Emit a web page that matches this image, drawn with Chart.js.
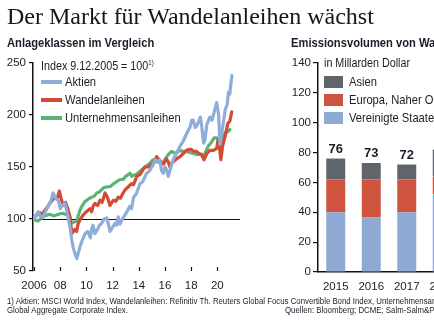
<!DOCTYPE html>
<html lang="de">
<head>
<meta charset="utf-8">
<script src="https://cdn.jsdelivr.net/npm/chart.js@4.4.1/dist/chart.umd.min.js"></script>
<style>
  html, body { margin: 0; padding: 0; overflow: hidden; }
  body { width: 434px; height: 326px; position: relative; background: #fff;
         font-family: 'Liberation Sans', sans-serif; color: #1c1c28; }
  .t { position: absolute; white-space: nowrap; transform-origin: 0 50%; }
  .schmal { transform: scaleX(0.86); }
  .fuss { font-size: 8.5px; line-height: 9px; transform: scaleX(0.92); }
  canvas { position: absolute; top: 0; }
  .strich { position: absolute; left: 41px; width: 21px; height: 4px; }
  .feld { position: absolute; left: 324px; width: 19px; height: 12px; }
</style>
</head>
<body>
<canvas id="grafico-index" width="250" height="326" style="left:0"></canvas>
<canvas id="grafico-emission" width="190" height="326" style="left:280px"></canvas>

<div class="t" style="left:7px;top:4px;font:24px/24px 'Liberation Serif',serif;color:#15151f">Der Markt für Wandelanleihen wächst</div>
<div class="t schmal" style="left:7px;top:35px;font-weight:bold;font-size:13px;line-height:16px">Anlageklassen im Vergleich</div>
<div class="t schmal" style="left:291px;top:35px;font-weight:bold;font-size:13px;line-height:16px">Emissionsvolumen von Wandelanleihen</div>

<!-- Legende links -->
<div class="t schmal" style="left:41px;top:55px;font-size:12.5px;line-height:16px">Index 9.12.2005 = 100<sup style="font-size:7px">1)</sup></div>
<div class="strich" style="top:80px;background:#8fadd9"></div>
<div class="strich" style="top:98px;background:#d24b32"></div>
<div class="strich" style="top:116px;background:#5cb377"></div>
<div class="t schmal" style="left:65px;top:74px;font-size:13px;line-height:16px">Aktien</div>
<div class="t schmal" style="left:65px;top:92px;font-size:13px;line-height:16px">Wandelanleihen</div>
<div class="t schmal" style="left:65px;top:110px;font-size:13px;line-height:16px">Unternehmensanleihen</div>

<!-- Legende rechts -->
<div class="t schmal" style="left:324px;top:55px;font-size:12.5px;line-height:16px">in Millarden Dollar</div>
<div class="feld" style="top:76px;background:#5f656b"></div>
<div class="feld" style="top:94px;background:#cf5440"></div>
<div class="feld" style="top:112px;background:#8eaad3"></div>
<div class="t schmal" style="left:349px;top:74px;font-size:13px;line-height:16px">Asien</div>
<div class="t schmal" style="left:349px;top:92px;font-size:13px;line-height:16px">Europa, Naher Osten</div>
<div class="t schmal" style="left:349px;top:110px;font-size:13px;line-height:16px">Vereinigte Staaten</div>

<!-- Fussnote -->
<div class="t fuss" style="left:7px;top:297px">1) Aktien: MSCI World Index, Wandelanleihen: Refinitiv Th. Reuters Global Focus Convertible Bond Index, Unternehmensanleihen:</div>
<div class="t fuss" style="left:7px;top:306px">Global Aggregate Corporate Index.</div>
<div class="t fuss" style="left:285px;top:306px">Quellen: Bloomberg; DCME; Salm-Salm&amp;Partner</div>

<script>
// Indexreihen [Jahr, Wert], 9.12.2005 = 100
const aktien = [[2005.93,100],[2006.15,104],[2006.33,107],[2006.45,103],[2006.7,102],[2006.9,108],[2007.1,113],[2007.3,118],[2007.45,125],[2007.65,120],[2007.85,118],[2008.0,110],[2008.1,112],[2008.35,115],[2008.5,108],[2008.6,102],[2008.75,92],[2008.88,80],[2009.0,72],[2009.15,66],[2009.26,62],[2009.4,68],[2009.5,73],[2009.7,80],[2009.9,86],[2010.1,88],[2010.3,82],[2010.4,90],[2010.5,94],[2010.65,86],[2010.85,90],[2011.0,94],[2011.17,96],[2011.35,100],[2011.55,101],[2011.7,94],[2011.8,88],[2012.0,92],[2012.2,96],[2012.3,94],[2012.43,102],[2012.55,95],[2012.7,99],[2012.9,103],[2013.1,107],[2013.3,112],[2013.45,110],[2013.6,121],[2013.8,124],[2014.1,134],[2014.3,136],[2014.45,140],[2014.6,144],[2014.8,146],[2015.0,150],[2015.25,157],[2015.4,155],[2015.6,157],[2015.75,146],[2015.87,144],[2016.0,150],[2016.1,148],[2016.25,141],[2016.45,150],[2016.63,157],[2016.85,163],[2017.0,166],[2017.15,170],[2017.4,175],[2017.65,182],[2017.9,188],[2018.05,195],[2018.16,195],[2018.3,188],[2018.4,189],[2018.55,193],[2018.7,198],[2018.8,190],[2018.95,173],[2019.05,176],[2019.2,191],[2019.43,198],[2019.6,195],[2019.8,205],[2019.95,212],[2020.1,200],[2020.2,172],[2020.3,180],[2020.45,192],[2020.6,205],[2020.75,210],[2020.85,222],[2020.95,220],[2021.05,232],[2021.12,238]];
const wandelanleihen = [[2005.93,100],[2006.2,104],[2006.45,106],[2006.6,104],[2006.8,108],[2007.0,111],[2007.2,115],[2007.4,118],[2007.6,121],[2007.75,119],[2007.93,127],[2008.1,118],[2008.25,113],[2008.4,116],[2008.6,109],[2008.75,102],[2008.88,86],[2009.0,88],[2009.1,90],[2009.25,88],[2009.38,96],[2009.55,100],[2009.76,104],[2010.0,107],[2010.27,110],[2010.4,107],[2010.5,112],[2010.65,115],[2010.85,113],[2011.04,118],[2011.2,116],[2011.42,125],[2011.6,121],[2011.8,113],[2012.05,118],[2012.25,117],[2012.43,121],[2012.6,120],[2012.8,125],[2012.95,128],[2013.2,131],[2013.45,134],[2013.6,133],[2013.84,141],[2014.1,143],[2014.3,147],[2014.47,150],[2014.7,150],[2014.98,152],[2015.2,156],[2015.37,160],[2015.55,157],[2015.75,154],[2015.9,153],[2016.1,158],[2016.25,155],[2016.38,150],[2016.5,154],[2016.63,155],[2016.9,158],[2017.15,160],[2017.4,163],[2017.65,166],[2017.85,167],[2018.0,167],[2018.2,165],[2018.4,165],[2018.6,163],[2018.8,162],[2018.98,157],[2019.2,163],[2019.43,166],[2019.7,166],[2019.95,168],[2020.05,176],[2020.15,170],[2020.27,157],[2020.4,170],[2020.6,180],[2020.8,192],[2020.95,194],[2021.1,203]];
const unternehmensanleihen = [[2005.93,100],[2006.1,99],[2006.3,98],[2006.5,100],[2006.8,103],[2007.2,104.5],[2007.5,103],[2007.75,104],[2008.0,105],[2008.2,105.5],[2008.5,104],[2008.7,102],[2008.88,96],[2009.05,97],[2009.25,98],[2009.5,108],[2009.64,112],[2009.9,117],[2010.14,119],[2010.4,121],[2010.6,122],[2010.8,125],[2011.0,126],[2011.3,130],[2011.6,131],[2011.8,131],[2012.2,135],[2012.56,138],[2012.8,138],[2013.0,141],[2013.33,144],[2013.45,141],[2013.6,142],[2013.84,143],[2014.1,146],[2014.47,150],[2014.8,153],[2015.1,157],[2015.3,155],[2015.5,155],[2015.8,153],[2016.0,157],[2016.25,162],[2016.5,165],[2016.8,163],[2017.15,166],[2017.4,165],[2017.65,165],[2017.9,164],[2018.16,163],[2018.4,162],[2018.67,162],[2018.9,161],[2019.05,163],[2019.3,170],[2019.5,173],[2019.75,178],[2019.95,178],[2020.1,177],[2020.2,172],[2020.3,174],[2020.45,181],[2020.6,183],[2020.8,184],[2020.96,186]];
const achsenJahre = [2006, 2008, 2010, 2012, 2014, 2016, 2018, 2020];

// Emissionsvolumen in Mrd. Dollar
const jahre = ['2015', '2016', '2017', '2018'];
const usa = [40, 36.5, 40, 52];
const europa = [22, 25.5, 22, 12];
const asien = [14, 11, 10, 18];

const textFarbe = '#1c1c28';
Chart.defaults.font.family = "'Liberation Sans', sans-serif";
Chart.defaults.color = textFarbe;

const punkte = (reihe) => reihe.map(([x, y]) => ({ x, y }));

// Linie bei 100 und kurze Striche an der Zeitachse
const indexLinien = {
  id: 'indexLinien',
  beforeDatasetsDraw(chart) {
    const { ctx, chartArea, scales: { x, y } } = chart;
    const y100 = Math.round(y.getPixelForValue(100)) + 0.5;
    ctx.save();
    ctx.strokeStyle = '#111';
    ctx.lineWidth = 1.2;
    ctx.beginPath();
    ctx.moveTo(chartArea.left, y100);
    ctx.lineTo(chartArea.right, y100);
    x.ticks.forEach((t) => {
      const px = Math.round(x.getPixelForValue(t.value)) + 0.5;
      ctx.moveTo(px, chartArea.bottom);
      ctx.lineTo(px, chartArea.bottom - 4);
    });
    ctx.stroke();
    ctx.restore();
  }
};

function linie(label, daten, farbe) {
  return {
    label,
    data: punkte(daten),
    borderColor: farbe,
    borderWidth: 3.2,
    pointRadius: 0,
    tension: 0,
    borderJoinStyle: 'round',
    borderCapStyle: 'round'
  };
}

new Chart(document.getElementById('grafico-index'), {
  type: 'line',
  data: {
    datasets: [
      linie('Aktien', aktien, '#8fadd9'),
      linie('Wandelanleihen', wandelanleihen, '#d24b32'),
      linie('Unternehmensanleihen', unternehmensanleihen, '#5cb377')
    ]
  },
  options: {
    responsive: false,
    animation: false,
    layout: { padding: { left: 0, top: 63, right: 10, bottom: 35 } },
    plugins: { legend: { display: false }, tooltip: { enabled: false } },
    scales: {
      x: {
        type: 'linear',
        min: 2005.92,
        max: 2021.73,
        afterBuildTicks: (scale) => { scale.ticks = achsenJahre.map((v) => ({ value: v })); },
        afterFit: (scale) => { scale.height = 20; },
        grid: { display: false, drawTicks: false },
        border: { display: false },
        ticks: {
          padding: 8,
          maxRotation: 0,
          autoSkip: false,
          font: { size: 11.5 },
          callback: (v) => (v === 2006 ? '2006' : String(v).slice(2))
        }
      },
      y: {
        min: 50,
        max: 250,
        afterFit: (scale) => { scale.width = 33; },
        grid: { drawOnChartArea: false, color: '#111', tickLength: 4, lineWidth: 1.2 },
        border: { color: '#111', width: 1.5 },
        ticks: { stepSize: 50, padding: 3, font: { size: 11.5 } }
      }
    }
  },
  plugins: [indexLinien]
});

// Summen über den gestapelten Balken
const summen = {
  id: 'summen',
  afterDatasetsDraw(chart) {
    const { ctx } = chart;
    const oben = chart.getDatasetMeta(2);
    ctx.save();
    ctx.font = "bold 13px 'Liberation Sans', sans-serif";
    ctx.fillStyle = textFarbe;
    ctx.textAlign = 'center';
    ctx.textBaseline = 'bottom';
    oben.data.forEach((bar, i) => {
      const summe = usa[i] + europa[i] + asien[i];
      ctx.fillText(String(summe), bar.x, bar.y - 3);
    });
    ctx.restore();
  }
};

function balken(label, daten, farbe) {
  return { label, data: daten, backgroundColor: farbe, barPercentage: 0.535, categoryPercentage: 1 };
}

new Chart(document.getElementById('grafico-emission'), {
  type: 'bar',
  data: {
    labels: jahre,
    datasets: [
      balken('Vereinigte Staaten', usa, '#8eaad3'),
      balken('Europa, Naher Osten', europa, '#cf5440'),
      balken('Asien', asien, '#5f656b')
    ]
  },
  options: {
    responsive: false,
    animation: false,
    layout: { padding: { left: 0, top: 63, right: 10, bottom: 34 } },
    plugins: { legend: { display: false }, tooltip: { enabled: false } },
    scales: {
      x: {
        stacked: true,
        afterFit: (scale) => { scale.height = 20; },
        grid: { display: false, drawTicks: false },
        border: { color: '#111', width: 1.5 },
        ticks: { padding: 8, font: { size: 11.5 } }
      },
      y: {
        stacked: true,
        min: 0,
        max: 140,
        afterFit: (scale) => { scale.width = 38; },
        grid: { drawOnChartArea: false, color: '#111', tickLength: 5, lineWidth: 1.2 },
        border: { color: '#111', width: 1.5 },
        ticks: { stepSize: 20, padding: 2, font: { size: 11.5 } }
      }
    }
  },
  plugins: [summen]
});
</script>
</body>
</html>
